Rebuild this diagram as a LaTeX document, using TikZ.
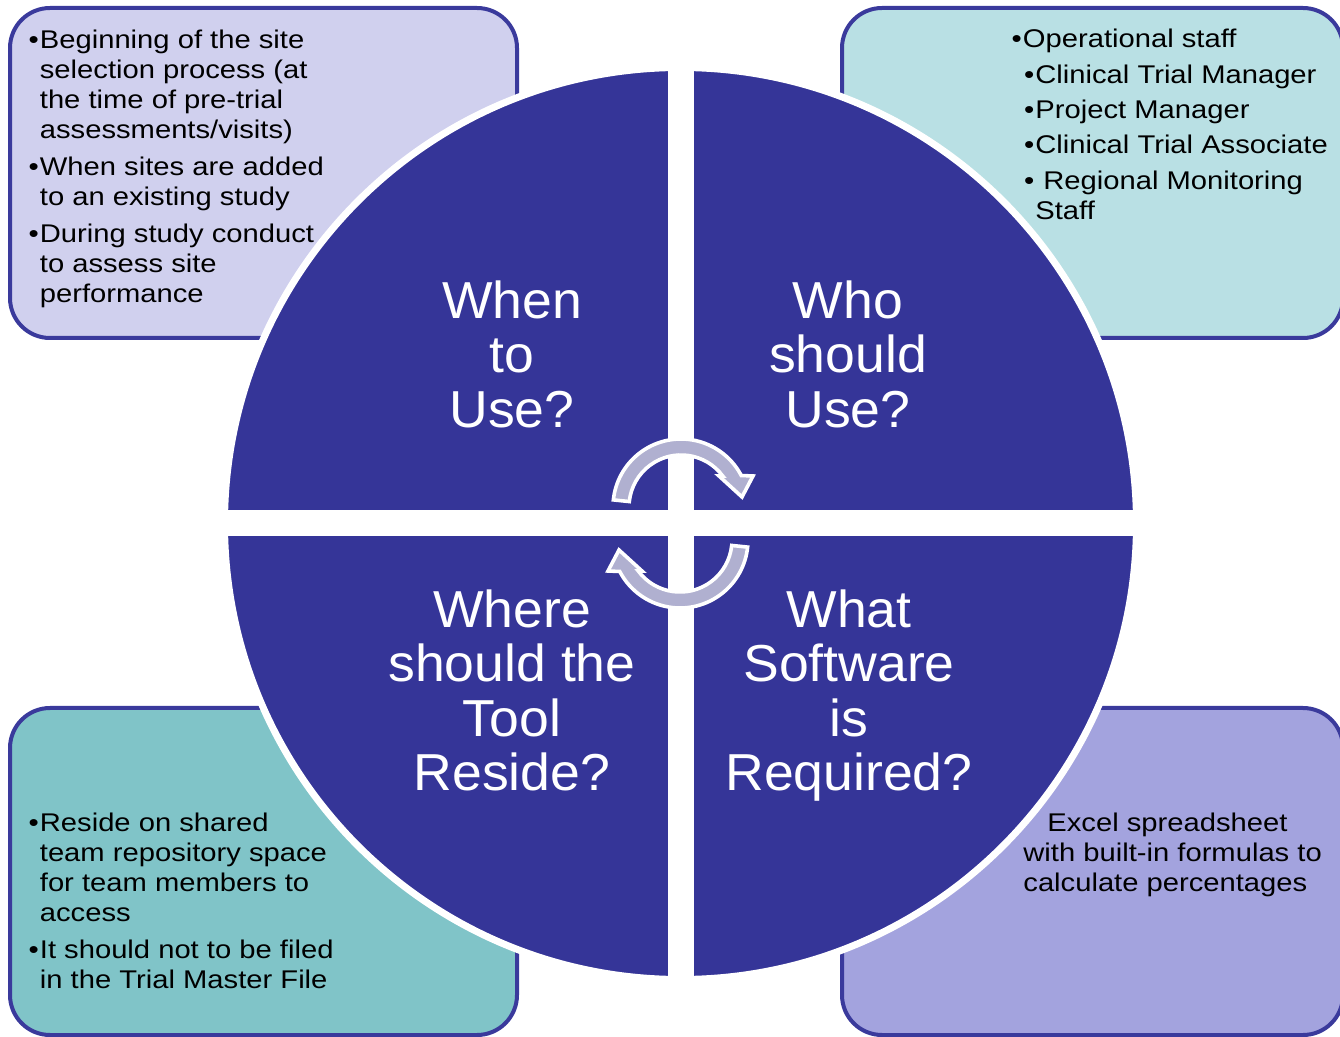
\documentclass[tikz,border=0pt]{standalone}
\usepackage{fontspec}
\setmainfont{Liberation Sans}
\newfontfamily\boxfont[FakeStretch=1.14]{Liberation Sans}
\newfontfamily\quadfont[FakeStretch=1.03]{Liberation Sans}
\usepackage{tikz}
\usetikzlibrary{positioning}
\definecolor{kruh}{HTML}{353598}
\definecolor{okraj}{HTML}{3A3A9C}
\definecolor{levnahore}{HTML}{D0D0EE}
\definecolor{pravnahore}{HTML}{B9E0E4}
\definecolor{levdole}{HTML}{80C4C8}
\definecolor{pravdole}{HTML}{A3A3DE}
\definecolor{sipka}{HTML}{B0B0D0}
\newcommand{\itm}{\llap{\textbullet\hspace{0.5pt}}}

\begin{document}
\begin{tikzpicture}[x=0.5pt, y=-0.5pt,
  infobox/.style={draw=okraj, line width=2pt, rounded corners=20pt},
  quadtext/.style={anchor=north, inner sep=0pt, align=center, text=white,
    font=\quadfont\fontsize{26}{27.3}\selectfont},
  boxtext/.style={anchor=north west, inner sep=0pt, align=left,
    font=\boxfont\fontsize{12.8}{15}\selectfont},
  cyklus/.style={fill=sipka, draw=white, line width=1.8pt, line join=miter}]
  \useasboundingbox (0,0) rectangle (1340,1037);
  \clip (0,0) rectangle (1340,1037);

  % Rámečky v rozích
  \draw[infobox, fill=levnahore] (10,8) rectangle (517,338);
  \draw[infobox, fill=pravnahore] (842,8) rectangle (1343,338);
  \draw[infobox, fill=levdole] (10,708) rectangle (517,1035);
  \draw[infobox, fill=pravdole] (842,708) rectangle (1343,1035);

  % Kruh a mezery mezi čtvrtinami
  \filldraw[fill=kruh, draw=white, line width=3.5pt] (680.5,523.5) circle (456);
  \fill[white] (667.5,60) rectangle (693.5,990);
  \fill[white] (216,510.5) rectangle (1146,536.5);

  % Kruhové šipky uprostřed
  \foreach \r in {0,180}
    \filldraw[cyklus, rotate around={\r:(680.5,523.5)}]
      ([shift={(681,507)}]186:68) arc[start angle=186, end angle=332.4, radius=68]
      -- (753,476) -- (742,497) -- (719,476)
      -- ([shift={(681,507)}]323.4:52) arc[start angle=323.4, end angle=186, radius=52]
      -- cycle;

  % Otázky ve čtvrtinách
  \node[quadtext] (kdy) at (512,280) {When\\to\\Use?};
  \node[quadtext] (kdo) at (848,280) {Who\\should\\Use?};
  \node[quadtext] (kde) at (512,589) {Where\\should the\\Tool\\Reside?};
  \node[quadtext] (co) at (849,589) {What\\Software\\is\\Required?};

  % Texty v rámečcích
  \node[boxtext] (kdy-text) at (39.5,30) {\itm Beginning of the site\\
    selection process (at\\ the time of pre-trial\\ assessments/visits)\\[3.3pt]
    \itm When sites are added\\ to an existing study\\[3.3pt]
    \itm During study conduct\\ to assess site\\ performance};
  \node[boxtext] (kdo-text) at (1035,29) {\hspace*{-6.25pt}\itm Operational staff\\[2.65pt]
    \itm Clinical Trial Manager\\[2.65pt]
    \itm Project Manager\\[2.65pt]
    \itm Clinical Trial Associate\\[2.65pt]
    \itm\hspace{4pt}Regional Monitoring\\ Staff};
  \node[boxtext] (kde-text) at (39.5,813) {\itm Reside on shared\\
    team repository space\\ for team members to\\ access\\[3.3pt]
    \itm It should not to be filed\\ in the Trial Master File};
  \node[boxtext] (co-text) at (1023,813) {\hspace*{12pt}Excel spreadsheet\\
    with built-in formulas to\\ calculate percentages};
\end{tikzpicture}
\end{document}
